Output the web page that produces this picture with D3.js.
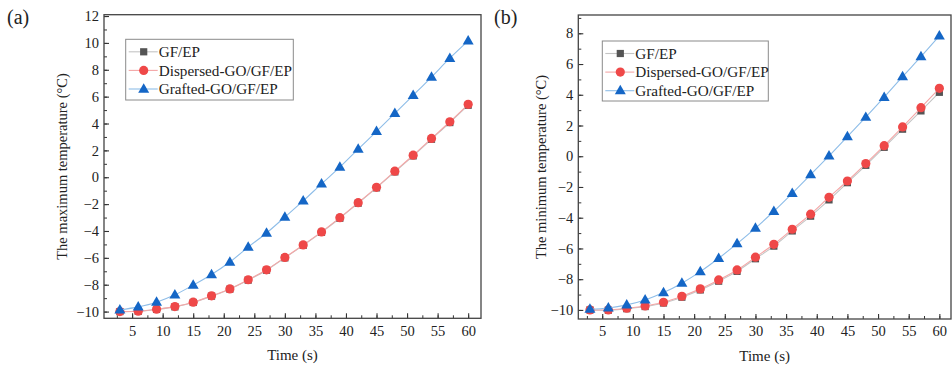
<!DOCTYPE html>
<html>
<head>
<meta charset="utf-8">
<script src="https://cdn.jsdelivr.net/npm/d3@7"></script>
<style>
  body { margin: 0; background: #fff; }
  svg text { font-family: "Liberation Serif", "Times New Roman", serif; fill: #222; }
</style>
</head>
<body>
<div id="chart"></div>
<script>
const w = 952, h = 371;

// time points (s)
const timeS = [3, 6, 9, 12, 15, 18, 21, 24, 27, 30, 33, 36, 39, 42, 45, 48, 51, 54, 57, 60];

// (a) maximum temperature
const gfMax = [-10.0, -9.98, -9.84, -9.65, -9.32, -8.85, -8.33, -7.66, -6.92, -6.0, -5.07, -4.1, -3.05, -1.93, -0.79, 0.4, 1.59, 2.83, 4.07, 5.36];
const dispMax = [-10.0, -9.97, -9.82, -9.63, -9.3, -8.83, -8.31, -7.63, -6.89, -5.97, -5.04, -4.07, -3.01, -1.89, -0.75, 0.45, 1.64, 2.89, 4.13, 5.43];
const graftMax = [-9.87, -9.65, -9.3, -8.75, -8.03, -7.24, -6.31, -5.2, -4.15, -2.96, -1.76, -0.49, 0.75, 2.09, 3.41, 4.75, 6.1, 7.46, 8.86, 10.15];

// (b) minimum temperature
const gfMin = [-10.0, -10.02, -9.92, -9.78, -9.55, -9.17, -8.7, -8.13, -7.49, -6.67, -5.85, -4.86, -3.9, -2.84, -1.72, -0.59, 0.58, 1.76, 2.95, 4.16];
const dispMin = [-10.0, -10.0, -9.89, -9.74, -9.5, -9.11, -8.63, -8.05, -7.4, -6.57, -5.73, -4.75, -3.77, -2.67, -1.61, -0.48, 0.69, 1.91, 3.16, 4.42];
const graftMin = [-9.95, -9.87, -9.67, -9.35, -8.87, -8.26, -7.51, -6.64, -5.69, -4.68, -3.58, -2.41, -1.2, 0.02, 1.28, 2.54, 3.84, 5.18, 6.48, 7.83];

const seriesNames = ["GF/EP", "Dispersed-GO/GF/EP", "Grafted-GO/GF/EP"];
const xTicks = [5, 10, 15, 20, 25, 30, 35, 40, 45, 50, 55, 60];
const maxTicks = [-10, -8, -6, -4, -2, 0, 2, 4, 6, 8, 10, 12];
const minTicks = [-10, -8, -6, -4, -2, 0, 2, 4, 6, 8];

// marker / line look for each series
const styles = [
    {marker: "square", fill: "#545454", line: "#c4c4c4"},
    {marker: "circle", fill: "#ef4848", line: "#f4a6a6"},
    {marker: "triangle", fill: "#1466c6", line: "#8ebde8"}
];

const svg = d3.select("#chart")
    .append("svg")
    .attr("width", w)
    .attr("height", h);

function drawMarker(g, type, x, y, fill) {
    if (type == "square") {
        g.append("rect")
            .attr("x", x - 3.6).attr("y", y - 3.6)
            .attr("width", 7.2).attr("height", 7.2)
            .style("fill", fill);
    } else if (type == "circle") {
        g.append("circle")
            .attr("cx", x).attr("cy", y).attr("r", 4.6)
            .style("fill", fill);
    } else {
        g.append("path")
            .attr("d", d3.symbol().type(d3.symbolTriangle).size(52)())
            .attr("transform", "translate(" + x + "," + (y + 0.5) + ")")
            .style("fill", fill);
    }
}

function drawPanel(p) {
    const g = svg.append("g");

    const x = d3.scaleLinear().domain(p.xDomain).range([p.left, p.right]);
    const y = d3.scaleLinear().domain(p.yDomain).range([p.bottom, p.top]);

    // minor ticks first
    g.append("g")
        .attr("transform", "translate(0," + p.bottom + ")")
        .call(d3.axisBottom(x).tickValues(d3.range(2.5, 61, 2.5)).tickSize(-3).tickFormat(""))
        .call(a => a.select(".domain").remove())
        .selectAll("line").style("stroke", "#333");
    g.append("g")
        .attr("transform", "translate(" + p.left + ",0)")
        .call(d3.axisLeft(y).tickValues(d3.range(p.yTicks[0], p.yDomain[1], 1)).tickSize(-3).tickFormat(""))
        .call(a => a.select(".domain").remove())
        .selectAll("line").style("stroke", "#333");

    // major axes
    const xa = g.append("g")
        .attr("transform", "translate(0," + p.bottom + ")")
        .call(d3.axisBottom(x).tickValues(xTicks).tickSize(-5).tickPadding(7));
    const ya = g.append("g")
        .attr("transform", "translate(" + p.left + ",0)")
        .call(d3.axisLeft(y).tickValues(p.yTicks).tickSize(-5).tickPadding(5));
    [xa, ya].forEach(a => {
        a.select(".domain").remove();
        a.selectAll("line").style("stroke", "#333").style("stroke-width", 1.1);
        a.selectAll("text")
            .style("font-family", "Liberation Serif")
            .style("font-size", "14.5px")
            .style("fill", "#222");
    });

    // frame
    g.append("rect")
        .attr("x", p.left).attr("y", p.top)
        .attr("width", p.right - p.left).attr("height", p.bottom - p.top)
        .style("fill", "none")
        .style("stroke", "#444")
        .style("stroke-width", 1.3);

    // series lines + markers
    const line = d3.line()
        .x(d => x(d.t))
        .y(d => y(d.v))
        .curve(d3.curveMonotoneX);

    p.series.forEach((vals, i) => {
        const pts = timeS.map((t, k) => ({t: t, v: vals[k]}));
        g.append("path")
            .datum(pts)
            .attr("d", line)
            .style("fill", "none")
            .style("stroke", styles[i].line)
            .style("stroke-width", 1.1);
        const mg = g.append("g");
        pts.forEach(d => drawMarker(mg, styles[i].marker, x(d.t), y(d.v), styles[i].fill));
    });

    // legend
    const lg = g.append("g");
    lg.append("rect")
        .attr("x", p.legend.x).attr("y", p.legend.y)
        .attr("width", p.legend.w).attr("height", p.legend.h)
        .style("fill", "#fff")
        .style("stroke", "#8a8a8a")
        .style("stroke-width", 1);
    seriesNames.forEach((name, i) => {
        const ry = p.legend.y + 12.5 + i * 18.6;
        const lx = p.legend.x + 3;
        lg.append("line")
            .attr("x1", lx).attr("x2", lx + 29)
            .attr("y1", ry).attr("y2", ry)
            .style("stroke", styles[i].line)
            .style("stroke-width", 1.1);
        drawMarker(lg, styles[i].marker, lx + 15, ry, styles[i].fill);
        lg.append("text")
            .attr("x", lx + 30)
            .attr("y", ry + 5.2)
            .style("font-size", "15.2px")
            .text(name);
    });

    // axis titles
    g.append("text")
        .attr("transform", "translate(" + p.yTitleX + "," + ((p.top + p.bottom) / 2) + ") rotate(-90)")
        .attr("text-anchor", "middle")
        .style("font-size", "14.5px")
        .text(p.yTitle);
    g.append("text")
        .attr("x", (p.left + p.right) / 2)
        .attr("y", p.bottom + 42)
        .attr("text-anchor", "middle")
        .style("font-size", "15px")
        .text("Time (s)");

    // panel letter
    g.append("text")
        .attr("x", p.letterX)
        .attr("y", 24)
        .style("font-size", "20px")
        .text(p.letter);
}

drawPanel({
    left: 104, right: 481, top: 14.7, bottom: 318.3,
    xDomain: [0.4, 62.1], yDomain: [-10.5, 12.1],
    yTicks: maxTicks,
    series: [gfMax, dispMax, graftMax],
    legend: {x: 125.7, y: 39.3, w: 167.6, h: 60.7},
    yTitle: "The maximum temperature (\u00B0C)", yTitleX: 67,
    letter: "(a)", letterX: 7
});

drawPanel({
    left: 578.3, right: 951, top: 15, bottom: 319,
    xDomain: [1.1, 61.9], yDomain: [-10.59, 9.19],
    yTicks: minTicks,
    series: [gfMin, dispMin, graftMin],
    legend: {x: 602.3, y: 41, w: 166, h: 60},
    yTitle: "The minimum temperature (\u00B0C)", yTitleX: 545.5,
    letter: "(b)", letterX: 494
});
</script>
</body>
</html>
